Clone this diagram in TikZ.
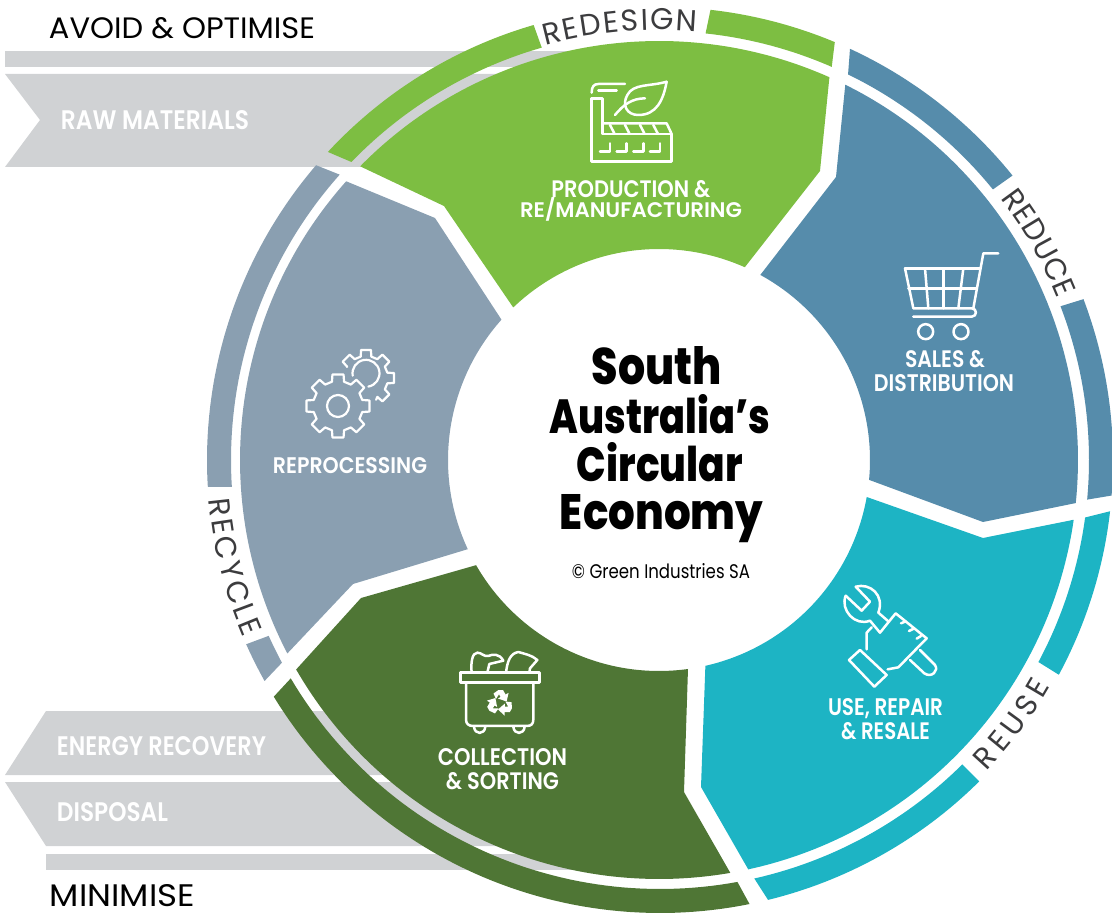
\documentclass[tikz,border=0pt]{standalone}
\usepackage{fontspec}
\usepackage{graphicx}
\usetikzlibrary{decorations.text}
\setmainfont{Poppins}
\newfontfamily\fsemi{Poppins SemiBold}
\newfontfamily\fxb{Poppins ExtraBold}
\definecolor{cgreen}{HTML}{7DBE42}
\definecolor{cblue}{HTML}{568CAB}
\definecolor{cteal}{HTML}{1DB4C4}
\definecolor{cdark}{HTML}{4F7635}
\definecolor{cgray}{HTML}{8A9FB1}
\definecolor{cband}{HTML}{D0D2D4}
\definecolor{crim}{HTML}{3C3C3E}
\def\cx{659}\def\cy{460}\def\rx{660}
\newcommand{\ringseg}[5]{\fill[#1] plot[domain=#2:#3,samples=60] ({\rx+453*cos(\x)},{\cy-453*sin(\x)}) -- plot[domain=#4:#5,samples=60] ({\rx+429*cos(\x)},{\cy-429*sin(\x)}) -- cycle;}
\newcommand{\fit}[3]{\resizebox{#1pt}{#2pt}{#3}}
\newcommand{\rimf}{\fontsize{30}{30}\selectfont\rmfamily\color{crim}}
\newcommand{\rimtext}[4]{\path[decorate,decoration={text along path,text align=fit to path,text={|\rimf|#4}}] plot[domain=#2:#3,samples=40] ({\cx+#1*cos(\x)},{\cy-#1*sin(\x)});}
\tikzset{
  lab/.style={anchor=base,inner sep=0pt,text=white,font=\fsemi},
  head/.style={anchor=base,inner sep=0pt,text=black,font=\rmfamily},
  titl/.style={anchor=base,inner sep=0pt,text=black,font=\fxb},
  ico/.style={draw=white,line width=2.5pt,line join=round,line cap=round,fill=none},
}
\begin{document}
\begin{tikzpicture}[x=1pt,y=-1pt]
\useasboundingbox (0,0) rectangle (1112,915);
% grey bands
\fill[cband] (5,51) rectangle (600,67);
\fill[cband] (5,74) -- (600,74) -- (600,167) -- (5,167) -- (40,120) -- cycle;
\fill[cband] (46,711) -- (600,711) -- (600,775) -- (5,775) -- cycle;
\fill[cband] (5,782) -- (600,782) -- (600,846) -- (46,846) -- cycle;
\fill[cband] (46,854) rectangle (650,870);
% outer ring
\ringseg{cgreen}{137.15}{106.2}{106}{136}
\ringseg{cgreen}{83.6}{67.3}{66.4}{83.9}
\ringseg{cblue}{65.2}{38.9}{39.1}{64}
\ringseg{cblue}{20.8}{-4.5}{-5.3}{21}
\ringseg{cteal}{-6.5}{-28.3}{-28.1}{-7.7}
\ringseg{cteal}{-45.2}{-76.2}{-77.3}{-45.2}
\ringseg{cdark}{-78.6}{-148.5}{-149.4}{-79.6}
\ringseg{cgray}{209.2}{204}{204.2}{208.2}
\ringseg{cgray}{183.4}{139.4}{138.3}{183.6}
% sectors
\fill[cgreen] plot[domain=135.5:66,samples=80] ({\cx+419*cos(\x)},{\cy-419*sin(\x)}) -- (820,171) -- (745,267)
  -- plot[domain=66:133.7,samples=60] ({\cx+211*cos(\x)},{\cy-211*sin(\x)}) -- (444,206) -- cycle;
\fill[cblue] plot[domain=63.6:-5.9,samples=80] ({\cx+419*cos(\x)},{\cy-419*sin(\x)}) -- (983,522)
  -- plot[domain=-5.4:61.3,samples=60] ({\cx+211*cos(\x)},{\cy-211*sin(\x)}) -- (836,177) -- cycle;
\fill[cteal] plot[domain=-8.2:-77.7,samples=80] ({\cx+419*cos(\x)},{\cy-419*sin(\x)}) -- (701,787)
  -- plot[domain=-77.3:-10.1,samples=60] ({\cx+211*cos(\x)},{\cy-211*sin(\x)}) -- (983,538) -- cycle;
\fill[cdark] plot[domain=-80.2:-150,samples=80] ({\cx+419*cos(\x)},{\cy-419*sin(\x)}) -- (361,598)
  -- plot[domain=-150.1:-82.1,samples=60] ({\cx+211*cos(\x)},{\cy-211*sin(\x)}) -- (684,792) -- cycle;
\fill[cgray] plot[domain=207.5:138.3,samples=80] ({\cx+419*cos(\x)},{\cy-419*sin(\x)}) -- (435,218)
  -- plot[domain=138.3:205,samples=60] ({\cx+211*cos(\x)},{\cy-211*sin(\x)}) -- (353,584) -- cycle;
% rim words
\rimtext{430}{105.3}{85}{REDESIGN}
\rimtext{430}{37.5}{22}{REDUCE}
\rimtext{452}{185}{203.2}{RECYCLE}
\rimtext{452}{-43.5}{-30}{REUSE}
% headings
\node[head] (avoid) at (182,39) {\fit{266}{21}{AVOID \& OPTIMISE}};
\node[head] (minimise) at (122.5,906) {\fit{145}{22}{MINIMISE}};
% band labels
\node[lab] (raw) at (155,130) {\fit{188}{19}{RAW MATERIALS}};
\node[lab] (energy) at (161.5,755) {\fit{209}{19}{ENERGY RECOVERY}};
\node[lab] (disposal) at (112.5,821) {\fit{111}{19}{DISPOSAL}};
% sector labels
\node[lab] (prod1) at (631,197) {\fit{159}{17}{PRODUCTION \&}};
\node[lab] (prod2) at (631,218) {\fit{222}{20}{RE/MANUFACTURING}};
\node[lab] (sales1) at (945,367) {\fit{80}{17}{SALES \&}};
\node[lab] (sales2) at (944,391) {\fit{140}{17}{DISTRIBUTION}};
\node[lab] (repro) at (350,473) {\fit{154}{16}{REPROCESSING}};
\node[lab] (coll1) at (502.5,765) {\fit{129}{17}{COLLECTION}};
\node[lab] (coll2) at (502.5,789) {\fit{113}{17}{\& SORTING}};
\node[lab] (use1) at (885.5,715) {\fit{115}{17}{USE, REPAIR}};
\node[lab] (use2) at (885.5,739) {\fit{89}{17}{\& RESALE}};
% title
\node[titl] (t1) at (657,384) {\fit{130}{38}{South}};
\node[titl] (t2) at (660,433) {\fit{220}{39}{Australia’s}};
\node[titl] (t3) at (660,481) {\fit{166}{39}{Circular}};
\node[titl] (t4) at (661.5,529) {\fit{203}{35}{Economy}};
\node[anchor=base,inner sep=0pt,font=\rmfamily] (copy) at (661,578) {\fit{178}{15}{© Green Industries SA}};
% factory icon
\begin{scope}[shift={(570,70)},x=.3333pt,y=-.3333pt]
\draw[ico] (165,42) -- (85,42) .. controls (72,42) and (65,50) .. (65,68);
\draw[ico] (85,62) -- (140,62);
\draw[ico] (65,85) -- (97,85) -- (97,192) -- (305,192) -- (305,275) -- (65,275) -- cycle;
\draw[ico] (97,160) -- (290,160) -- (305,192);
\foreach \d in {120,165,210,250}{\draw[ico] (\d,165) -- (\d+13,190);}
\foreach \d in {90,140,190,240}{\draw[ico] (\d,245) -- (\d+30,245) -- (\d+30,220);}
\draw[ico] (290,35) .. controls (240,50) and (190,40) .. (172,75) .. controls (155,105) and (170,135) .. (205,135) .. controls (260,135) and (280,90) .. (290,35);
\draw[ico] (135,135) .. controls (160,105) and (185,85) .. (225,85);
\end{scope}
% cart icon
\begin{scope}[shift={(890,240)},x=.3333pt,y=-.3333pt]
\draw[ico] (325,40) -- (280,40) -- (250,205);
\draw[ico] (45,85) -- (270,85);
\draw[ico] (45,85) -- (70,205) -- (245,205) .. controls (262,205) and (262,230) .. (245,230) -- (70,230);
\draw[ico] (55,145) -- (260,145);
\draw[ico] (105,85) -- (115,205);
\draw[ico] (160,85) -- (160,205);
\draw[ico] (220,85) -- (205,205);
\draw[ico] (107,275) circle[radius=7.5pt];
\draw[ico] (213,275) circle[radius=7.5pt];
\end{scope}
% gears icon
\begin{scope}[shift={(338,406)}]
\draw[ico,line width=2.2pt] (-14:25) \foreach \k in {0,45,...,315}{ -- (\k-14:25) -- (\k-10:32) -- (\k+10:32) -- (\k+14:25)} -- cycle;
\draw[ico,line width=2.2pt] (0,0) circle[radius=11pt];
\end{scope}
\begin{scope}[shift={(366,378)}]
\draw[ico,line width=2.2pt] (-150:22) \foreach \k in {-135,-90,-45,0,45}{ -- (\k-14:22) -- (\k-10:28.5) -- (\k+10:28.5) -- (\k+14:22)} -- (65:24);
\draw[ico,line width=2.2pt] (-170:13.5) arc[start angle=190,end angle=-80,radius=13.5pt];
\end{scope}
% bin icon
\begin{scope}[shift={(450,640)},x=.3333pt,y=-.3333pt]
\draw[ico] (32,98) -- (268,98) -- (268,128) -- (32,128) -- cycle;
\draw[ico] (48,128) -- (48,238) .. controls (48,252) and (56,258) .. (70,258) -- (230,258) .. controls (244,258) and (250,252) .. (250,238) -- (250,128);
\draw[ico] (72,260) .. controls (74,285) and (104,285) .. (106,260);
\draw[ico] (190,260) .. controls (192,285) and (222,285) .. (224,260);
\draw[ico] (65,98) .. controls (62,70) and (66,38) .. (82,38) .. controls (95,38) and (100,50) .. (115,48) .. controls (128,42) and (148,40) .. (160,62) -- (118,72) -- (112,98);
\draw[ico] (168,98) .. controls (172,65) and (180,40) .. (205,36) .. controls (225,42) and (245,45) .. (262,60) -- (240,85) -- (238,98);
\end{scope}
\begin{scope}[shift={(500,703)}]
\foreach \r in {0,120,240}{
\fill[white,rotate=\r] (-6.5,-9.5) -- (-1.5,-13) -- (3,-13) -- (5.6,-8.5) -- (8.6,-10.2) -- (6.6,-1.5) -- (-2,-4.5) -- (.6,-6) -- (-1,-8.8) -- (-4,-4) -- cycle;}
\end{scope}
% hand icon
\begin{scope}[shift={(835,580)},x=.3333pt,y=-.3333pt]
\draw[ico] (32,47) -- (80,92) -- (105,65) -- (62,20) .. controls (105,8) and (150,45) .. (130,98) -- (160,124);
\draw[ico] (32,47) .. controls (15,90) and (60,140) .. (105,122) -- (135,158) -- (182,100) -- (275,175) -- (190,262) -- (158,268);
\draw[ico] (110,142) -- (95,158) -- (95,208);
\draw[ico] (198,130) -- (212,124);
\draw[ico] (222,153) -- (236,146);
\draw[ico] (245,176) -- (258,168);
\draw[ico] (75,210) -- (155,285) -- (118,320) -- (42,240) -- cycle;
\draw[ico] (255,210) -- (300,255) .. controls (312,272) and (290,295) .. (268,280) -- (225,240);
\end{scope}
\end{tikzpicture}
\end{document}
